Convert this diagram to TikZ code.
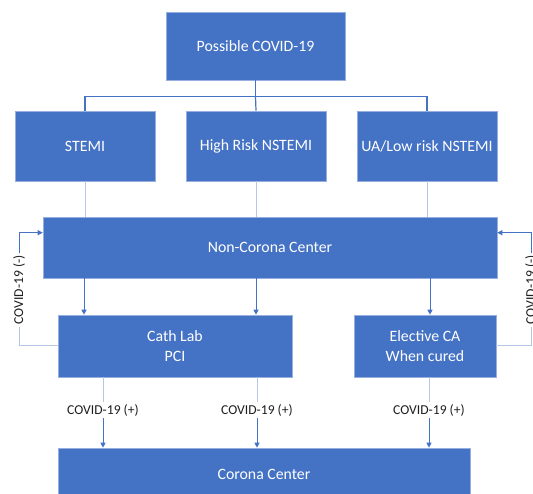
\documentclass[tikz,border=0pt]{standalone}
\usepackage{fontspec}
\setmainfont{Carlito}
\usetikzlibrary{arrows.meta}
\definecolor{boxblue}{RGB}{68,114,196}
\definecolor{edgeblue}{RGB}{150,175,222}
\definecolor{paleblue}{RGB}{180,199,231}
\definecolor{inkgray}{RGB}{30,30,30}
\tikzset{
  box/.style={fill=boxblue, draw=edgeblue, line width=0.6pt, text=white, align=center,
    inner sep=0pt, font=\fontsize{15.8}{20}\selectfont},
  tag/.style={fill=white, text=inkgray, inner sep=2pt, font=\fontsize{13.6}{16}\selectfont},
  tree/.style={boxblue, line width=1.2pt},
  feed/.style={paleblue, line width=1pt},
  flow/.style={boxblue, line width=1pt, -{Triangle[length=5pt,width=5pt]}}
}
\begin{document}
\begin{tikzpicture}[x=1pt,y=-1pt]
\useasboundingbox (0,0) rectangle (533,494);

% boxes
\node[box, minimum width=179pt, minimum height=68pt] (possible) at (255.5,46) {Possible COVID-19};
\node[box, minimum width=140pt, minimum height=70pt] (stemi) at (85,146) {STEMI};
\node[box, minimum width=140pt, minimum height=70pt] (high) at (256,146) {High Risk NSTEMI};
\node[box, minimum width=140pt, minimum height=70pt] (ua) at (427,146) {UA/Low risk NSTEMI};
\node[box, minimum width=454pt, minimum height=61pt] (noncorona) at (270,247.5) {Non-Corona Center};
\node[box, minimum width=234pt, minimum height=62pt] (cath) at (175,346) {Cath Lab\\PCI};
\node[box, minimum width=142pt, minimum height=62pt] (elective) at (425,346) {Elective CA\\When cured};
\node[box, minimum width=412pt, minimum height=52pt] (corona) at (264,474) {Corona Center};

% tree from the top box
\draw[tree] (possible.south) -- ++(0,16) coordinate (fork);
\draw[tree] (stemi.north) |- (fork) -| (ua.north);
\draw[tree] (fork) -- (high.north);
\foreach \b in {stemi,high,ua}
  \draw[feed] (\b.south) -- (\b.south |- noncorona.north);

% down to the labs
\coordinate (a1) at (84,0);
\coordinate (a2) at (256,0);
\coordinate (a3) at (430,0);
\draw[flow] (noncorona.south -| a1) -- (cath.north -| a1);
\draw[flow] (noncorona.south -| a2) -- (cath.north -| a2);
\draw[flow] (noncorona.south -| a3) -- (elective.north -| a3);

% positive cases
\node[tag] (pos1) at (103,410) {COVID-19 (+)};
\node[tag] (pos2) at (257,410) {COVID-19 (+)};
\node[tag] (pos3) at (429,410) {COVID-19 (+)};
\draw[feed] (cath.south -| pos1) -- (pos1);
\draw[feed] (cath.south -| pos2) -- (pos2);
\draw[feed] (elective.south -| pos3) -- (pos3);
\foreach \p in {pos1,pos2,pos3}
  \draw[flow] (\p) -- (corona.north -| \p);

% negative cases go back
\node[tag, rotate=90] (neg1) at (19,290) {COVID-19 (-)};
\node[tag, rotate=90] (neg2) at (531,290) {COVID-19 (-)};
\draw[feed] (cath.west) -| (neg1);
\draw[flow] (neg1) |- ([yshift=-16pt]noncorona.north west);
\draw[feed] (elective.east) -| (neg2);
\draw[flow] (neg2) |- ([yshift=-16pt]noncorona.north east);
\end{tikzpicture}
\end{document}
